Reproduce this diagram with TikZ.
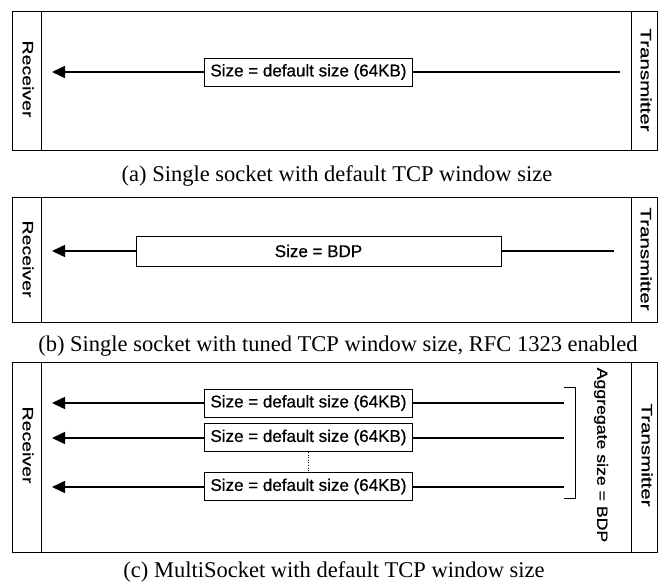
\documentclass[tikz,border=0pt]{standalone}
\usepackage{fontspec}
\setmainfont{Liberation Serif}
\newfontfamily\lblfont[FakeBold=0.7]{Liberation Sans}
\usetikzlibrary{arrows.meta}
\begin{document}
\begin{tikzpicture}[x=1pt,y=-1pt,
  frame/.style={draw, line width=0.9pt},
  sizebox/.style={draw, line width=0.9pt, minimum height=28pt, inner sep=1pt, font=\lblfont\fontsize{17}{19}\selectfont, fill=white},
  flow/.style={line width=1.5pt, -{Triangle[length=13pt,width=12pt]}},
  side/.style={font=\lblfont\fontsize{15}{17}\selectfont, rotate=-90},
  captext/.style={font=\fontsize{22.5}{25}\selectfont}]
\useasboundingbox (0,0) rectangle (666,585);
% ---------- panel (a)
\draw[frame] (12,11) rectangle (657,150);
\draw[frame] (41,11) -- (41,150);
\draw[frame] (631,11) -- (631,150);
\node[side] (ra) at (28,79) {\scalebox{1.3}[1]{Receiver}};
\node[side] (ta) at (646,80) {\scalebox{1.37}[1]{Transmitter}};
\coordinate (sa) at (620,72);
\coordinate (ea) at (52,72);
\draw[flow] (sa) -- (ea);
\node[sizebox, minimum width=208pt] (ba) at (308.5,72) {Size = default size (64KB)};
\node[captext] (ca) at (337,176) {(a) Single socket with default TCP window size};
% ---------- panel (b)
\draw[frame] (12,197) rectangle (657,322);
\draw[frame] (41,197) -- (41,322);
\draw[frame] (631,197) -- (631,322);
\node[side] (rb) at (28,259) {\scalebox{1.3}[1]{Receiver}};
\node[side] (tb) at (646,259) {\scalebox{1.37}[1]{Transmitter}};
\coordinate (sb) at (614,251);
\coordinate (eb) at (52,251);
\draw[flow] (sb) -- (eb);
\node[sizebox, minimum width=365pt, minimum height=30pt] (bb) at (318.5,251) {Size = BDP};
\node[captext] (cb) at (338,346) {(b) Single socket with tuned TCP window size, RFC 1323 enabled};
% ---------- panel (c)
\draw[frame] (12,362) rectangle (657,552);
\draw[frame] (41,362) -- (41,552);
\draw[frame] (631,362) -- (631,552);
\node[side] (rc) at (28,445) {\scalebox{1.3}[1]{Receiver}};
\node[side] (tc) at (647,455) {\scalebox{1.37}[1]{Transmitter}};
\coordinate (s1) at (564,403);
\coordinate (e1) at (52,403);
\coordinate (s2) at (564,438);
\coordinate (e2) at (52,438);
\coordinate (s3) at (564,487);
\coordinate (e3) at (52,487);
\draw[flow] (s1) -- (e1);
\draw[flow] (s2) -- (e2);
\draw[flow] (s3) -- (e3);
\node[sizebox, minimum width=208pt] (b1) at (308.5,403) {Size = default size (64KB)};
\node[sizebox, minimum width=208pt] (b2) at (308.5,437.5) {Size = default size (64KB)};
\node[sizebox, minimum width=208pt] (b3) at (308.5,486.5) {Size = default size (64KB)};
\draw[dotted, line width=0.6pt] (b2.south) -- (b3.north);
\coordinate (kt) at (564,387);
\coordinate (kb) at (564,498);
\draw[line width=0.9pt] (kt) -- (575,387) -- (575,498) -- (kb);
\node[side] (ag) at (601,455) {\scalebox{1.18}[1]{Aggregate size = BDP}};
\node[captext] (cc) at (334,572) {(c) MultiSocket with default TCP window size};
\end{tikzpicture}
\end{document}
